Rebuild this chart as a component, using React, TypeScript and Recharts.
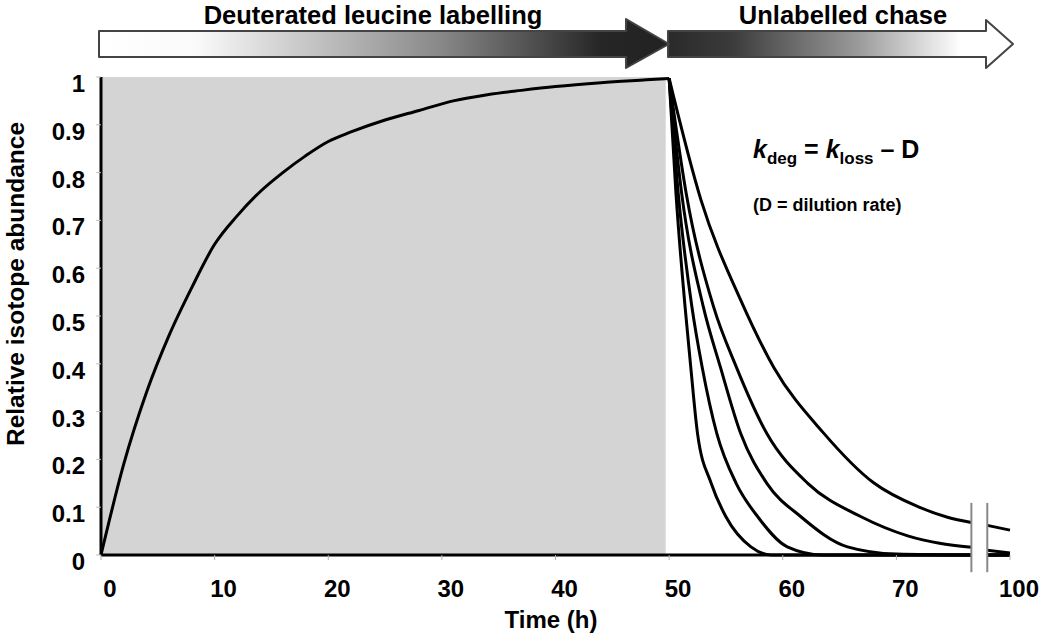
import React from "react";
import {
  LineChart,
  Line,
  XAxis,
  YAxis,
  ReferenceArea,
  ReferenceLine,
  Label,
} from "recharts";

const FONT = '"Liberation Sans", Arial, Helvetica, sans-serif';

// time axis is drawn 0-80; the last tick stands for 100 h after the axis break
const xTicks = [0, 10, 20, 30, 40, 50, 60, 70, 80];
const xTickLabels = ["0", "10", "20", "30", "40", "50", "60", "70", "100"];
const yTicks = [0, 0.1, 0.2, 0.3, 0.4, 0.5, 0.6, 0.7, 0.8, 0.9, 1];
const yTickLabels = ["0", "0.1", "0.2", "0.3", "0.4", "0.5", "0.6", "0.7", "0.8", "0.9", "1"];

const breakStart = 76.6;
const breakEnd = 78;

// labelling phase
const rise = [
  { t: 0, v: 0 },
  { t: 2, v: 0.19 },
  { t: 4, v: 0.34 },
  { t: 6, v: 0.46 },
  { t: 8, v: 0.56 },
  { t: 10, v: 0.65 },
  { t: 12, v: 0.71 },
  { t: 14, v: 0.76 },
  { t: 16, v: 0.8 },
  { t: 18, v: 0.835 },
  { t: 20, v: 0.865 },
  { t: 22, v: 0.885 },
  { t: 25, v: 0.91 },
  { t: 28, v: 0.93 },
  { t: 31, v: 0.95 },
  { t: 34, v: 0.963 },
  { t: 37, v: 0.972 },
  { t: 40, v: 0.98 },
  { t: 44, v: 0.988 },
  { t: 48, v: 0.994 },
  { t: 50, v: 0.997 },
];

// chase phase, fastest to slowest loss
const chase1 = [
  { t: 50, v: 0.997 },
  { t: 50.6, v: 0.757 },
  { t: 51.4, v: 0.52 },
  { t: 51.9, v: 0.394 },
  { t: 52.5, v: 0.254 },
  { t: 53.7, v: 0.15 },
  { t: 55.0, v: 0.08 },
  { t: 57.2, v: 0.017 },
  { t: 59, v: 0 },
  { t: 76.6, v: 0 },
  { t: 77.3, v: null },
  { t: 78, v: 0 },
  { t: 80, v: 0 },
];
const chase2 = [
  { t: 50, v: 0.997 },
  { t: 50.8, v: 0.757 },
  { t: 52.0, v: 0.52 },
  { t: 52.9, v: 0.394 },
  { t: 54.2, v: 0.254 },
  { t: 55.9, v: 0.15 },
  { t: 57.8, v: 0.08 },
  { t: 60.4, v: 0.017 },
  { t: 63.5, v: 0 },
  { t: 76.6, v: 0 },
  { t: 77.3, v: null },
  { t: 78, v: 0 },
  { t: 80, v: 0 },
];
const chase3 = [
  { t: 50, v: 0.997 },
  { t: 51.1, v: 0.757 },
  { t: 53.0, v: 0.52 },
  { t: 54.5, v: 0.394 },
  { t: 56.3, v: 0.254 },
  { t: 58.6, v: 0.15 },
  { t: 61.6, v: 0.08 },
  { t: 65.7, v: 0.017 },
  { t: 70, v: 0.002 },
  { t: 76.6, v: 0 },
  { t: 77.3, v: null },
  { t: 78, v: 0 },
  { t: 80, v: 0 },
];
const chase4 = [
  { t: 50, v: 0.997 },
  { t: 51.5, v: 0.757 },
  { t: 53.9, v: 0.52 },
  { t: 55.9, v: 0.394 },
  { t: 58.6, v: 0.254 },
  { t: 62.2, v: 0.15 },
  { t: 66.9, v: 0.08 },
  { t: 71, v: 0.04 },
  { t: 76.6, v: 0.016 },
  { t: 77.3, v: null },
  { t: 78, v: 0.01 },
  { t: 80, v: 0.004 },
];
const chase5 = [
  { t: 50, v: 0.997 },
  { t: 52.8, v: 0.743 },
  { t: 56.3, v: 0.533 },
  { t: 59.2, v: 0.393 },
  { t: 63.6, v: 0.255 },
  { t: 68, v: 0.151 },
  { t: 72, v: 0.1 },
  { t: 74.5, v: 0.079 },
  { t: 76.6, v: 0.068 },
  { t: 77.3, v: null },
  { t: 78, v: 0.062 },
  { t: 80, v: 0.052 },
];
const chaseCurves = [chase1, chase2, chase3, chase4, chase5];

const XTick = (props: any) => {
  const i = xTicks.indexOf(props.payload.value);
  return (
    <text x={props.x + 9} y={props.y + 35} textAnchor="middle" fontFamily={FONT} fontSize={24} fontWeight="bold" fill="#000">
      {xTickLabels[i]}
    </text>
  );
};

const YTick = (props: any) => {
  const i = yTicks.indexOf(props.payload.value);
  return (
    <text x={props.x} y={props.y + 15} textAnchor="end" fontFamily={FONT} fontSize={24} fontWeight="bold" fill="#000">
      {yTickLabels[i]}
    </text>
  );
};

export default function App() {
  return (
    <div style={{ position: "absolute", left: 0, top: 0, width: 1050, height: 643, background: "#fff" }}>
      <LineChart width={1050} height={643} margin={{ top: 77, right: 40, bottom: 0, left: 0 }}>
        <XAxis
          type="number"
          dataKey="t"
          domain={[0, 80]}
          ticks={xTicks}
          interval={0}
          height={88}
          axisLine={false}
          tickLine={{ stroke: "#b0b0b0" }}
          tickSize={5}
          tick={<XTick />}
        >
          <Label
            content={() => (
              <text x={551} y={628} textAnchor="middle" fontFamily={FONT} fontSize={24} fontWeight="bold" fill="#000">
                Time (h)
              </text>
            )}
          />
        </XAxis>
        <YAxis
          type="number"
          domain={[0, 1]}
          ticks={yTicks}
          interval={0}
          width={101}
          axisLine={{ stroke: "#000", strokeWidth: 3 }}
          tickLine={{ stroke: "#c0c0c0" }}
          tickSize={5}
          tickMargin={11}
          tick={<YTick />}
        >
          <Label
            content={() => (
              <text x={24} y={284} transform="rotate(-90 24 284)" textAnchor="middle" fontFamily={FONT} fontSize={24.5} fontWeight="bold" fill="#000">
                Relative isotope abundance
              </text>
            )}
          />
        </YAxis>
        <ReferenceArea x1={0} x2={49.7} y1={0} y2={1} fill="#d4d4d4" fillOpacity={1} stroke="none" />
        <ReferenceLine segment={[{ x: 0, y: 0 }, { x: breakStart, y: 0 }]} stroke="#000" strokeWidth={3} />
        <ReferenceLine segment={[{ x: breakEnd, y: 0 }, { x: 80, y: 0 }]} stroke="#000" strokeWidth={3} />
        <Line data={rise} dataKey="v" type="monotone" stroke="#000" strokeWidth={3} dot={false} isAnimationActive={false} />
        {chaseCurves.map((c, i) => (
          <Line key={i} data={c} dataKey="v" type="monotone" stroke="#000" strokeWidth={3} dot={false} isAnimationActive={false} />
        ))}
        <ReferenceLine ifOverflow="visible" segment={[{ x: breakStart, y: -0.036 }, { x: breakStart, y: 0.109 }]} stroke="#888" strokeWidth={2} />
        <ReferenceLine ifOverflow="visible" segment={[{ x: breakEnd, y: -0.036 }, { x: breakEnd, y: 0.109 }]} stroke="#888" strokeWidth={2} />
      </LineChart>
      <svg width={1050} height={643} style={{ position: "absolute", left: 0, top: 0, pointerEvents: "none" }}>
        <defs>
          <linearGradient id="gIn" x1="0" y1="0" x2="1" y2="0">
            <stop offset="0%" stopColor="#ffffff" />
            <stop offset="17%" stopColor="#fafafa" />
            <stop offset="60%" stopColor="#888888" />
            <stop offset="88%" stopColor="#262626" />
            <stop offset="100%" stopColor="#222222" />
          </linearGradient>
          <linearGradient id="gOut" x1="0" y1="0" x2="1" y2="0">
            <stop offset="0%" stopColor="#2a2a2a" />
            <stop offset="18%" stopColor="#3a3a3a" />
            <stop offset="55%" stopColor="#9a9a9a" />
            <stop offset="85%" stopColor="#ffffff" />
            <stop offset="100%" stopColor="#ffffff" />
          </linearGradient>
        </defs>
        <polygon points="668,31 986,31 986,20 1013,44 986,68 986,57 668,57" fill="url(#gOut)" stroke="#444" strokeWidth={2} strokeLinejoin="round" />
        <polygon points="99,31 626,31 626,19 669,44 626,68 626,57 99,57" fill="url(#gIn)" stroke="#444" strokeWidth={2} strokeLinejoin="round" />
        <text x={373} y={24} textAnchor="middle" fontFamily={FONT} fontSize={25.5} fontWeight="bold" fill="#000">
          Deuterated leucine labelling
        </text>
        <text x={843} y={24} textAnchor="middle" fontFamily={FONT} fontSize={25.5} fontWeight="bold" fill="#000">
          Unlabelled chase
        </text>
        <text x={753} y={158} fontFamily={FONT} fontSize={25} fontWeight="bold" fill="#000">
          <tspan fontStyle="italic">k</tspan>
          <tspan fontSize={17} dy={6}>deg</tspan>
          <tspan dy={-6}> = </tspan>
          <tspan fontStyle="italic">k</tspan>
          <tspan fontSize={17} dy={6}>loss</tspan>
          <tspan dy={-6}> – D</tspan>
        </text>
        <text x={753} y={211} fontFamily={FONT} fontSize={18} fontWeight="bold" fill="#000">
          (D = dilution rate)
        </text>
      </svg>
    </div>
  );
}
